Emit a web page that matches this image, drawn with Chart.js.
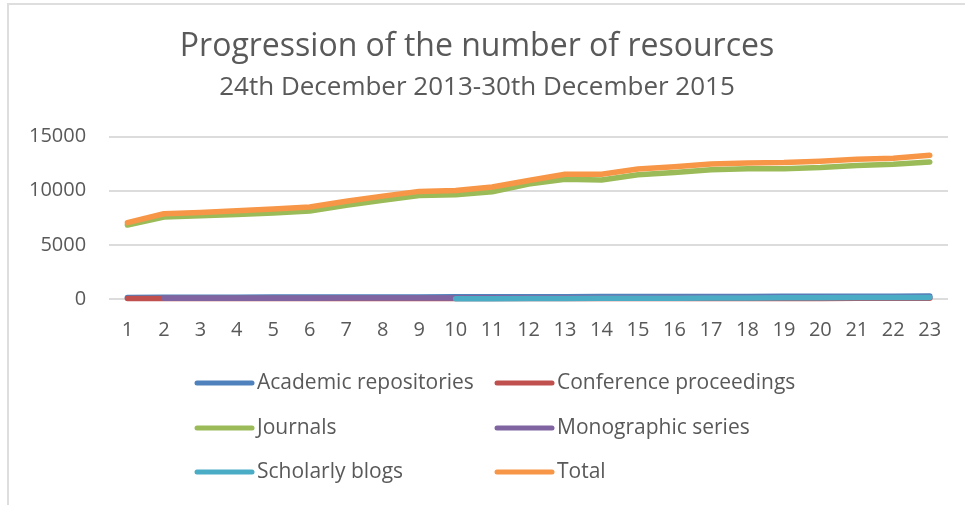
<!DOCTYPE html>
<html>
<head>
<meta charset="utf-8">
<title>Progression of the number of resources</title>
<script src="https://cdn.jsdelivr.net/npm/chart.js@4"></script>
<style>
  html, body { margin: 0; padding: 0; background: #fff; }
  #wrap { position: relative; width: 965px; height: 505px; overflow: hidden; }
  #frame {
    position: absolute; left: 7px; top: 3px; width: 980px; height: 520px;
    border-left: 2px solid #dedede; border-top: 2px solid #dedede;
  }
  #chart { position: absolute; left: 0; top: 0; }
</style>
</head>
<body>
<div id="wrap">
  <div id="frame"></div>
  <canvas id="chart" width="965" height="505"></canvas>
</div>
<script>
const labels = ["1", "2", "3", "4", "5", "6", "7", "8", "9", "10", "11", "12",
  "13", "14", "15", "16", "17", "18", "19", "20", "21", "22", "23"];

const academicRepositories = [150, 160, 165, 170, 175, 180, 185, 190, 195, 200, 205, 210,
  215, 220, 225, 230, 235, 240, 245, 250, 255, 260, 270];
const conferenceProceedings = [40, 45, 45, 45, 45, 45, 45, 50, 50, 50, 50, 50,
  50, 55, 55, 55, 55, 55, 55, 55, 60, 60, 60];
const journals = [6830, 7570, 7690, 7810, 7940, 8130, 8660, 9130, 9560, 9630, 9910, 10620,
  11060, 11000, 11470, 11690, 11940, 12030, 12040, 12150, 12340, 12440, 12650];
const monographicSeries = [null, 60, 65, 70, 75, 80, 85, 90, 95, 100, 105, 110,
  115, 120, 125, 130, 130, 135, 135, 140, 140, 145, 150];
const scholarlyBlogs = [null, null, null, null, null, null, null, null, null, 20, 30, 40,
  50, 60, 70, 80, 90, 100, 110, 120, 130, 140, 150];
const total = [7050, 7870, 8000, 8150, 8310, 8500, 9030, 9500, 9940, 10030, 10350, 10950,
  11530, 11530, 12000, 12220, 12470, 12560, 12600, 12720, 12900, 13000, 13280];

const yTicks = [0, 5000, 10000, 15000];

const seriesNames = ["Academic repositories", "Conference proceedings", "Journals",
  "Monographic series", "Scholarly blogs", "Total"];
const seriesData = [academicRepositories, conferenceProceedings, journals,
  monographicSeries, scholarlyBlogs, total];
const seriesColors = ["#4F81BD", "#C0504D", "#9BBB59", "#8064A2", "#4BACC6", "#F79646"];

const textColor = "#595959";
const fontFamily = "'Open Sans', 'Noto Sans', sans-serif";

// legend in two fixed columns, like the spreadsheet one
const gridLegend = {
  id: "gridLegend",
  afterDraw(chart) {
    const c = chart.ctx;
    const colX = [197, 497];
    const rowY = [383, 428, 472];
    c.save();
    c.font = "21px " + fontFamily;
    c.textBaseline = "middle";
    c.fillStyle = textColor;
    chart.data.datasets.forEach((ds, i) => {
      const x = colX[i % 2];
      const y = rowY[Math.floor(i / 2)];
      c.strokeStyle = ds.borderColor;
      c.lineWidth = 5;
      c.lineCap = "round";
      c.beginPath();
      c.moveTo(x, y);
      c.lineTo(x + 55, y);
      c.stroke();
      c.fillText(ds.label, x + 60, y);
    });
    c.restore();
  }
};

new Chart(document.getElementById("chart"), {
  type: "line",
  data: {
    labels: labels,
    datasets: seriesNames.map((name, i) => ({
      label: name,
      data: seriesData[i],
      borderColor: seriesColors[i],
      backgroundColor: seriesColors[i],
      borderWidth: 5.5,
      borderCapStyle: "round",
      borderJoinStyle: "round",
      pointRadius: 0,
      tension: 0,
      clip: false,
      order: seriesNames.length - i
    }))
  },
  options: {
    responsive: false,
    animation: false,
    layout: { padding: { left: 6, right: 17, top: 0, bottom: 144 } },
    plugins: {
      legend: { display: false },
      tooltip: { enabled: false },
      title: {
        display: true,
        text: "Progression of the number of resources",
        color: textColor,
        font: { family: fontFamily, size: 32, weight: "normal" },
        padding: { top: 28, bottom: 0 }
      },
      subtitle: {
        display: true,
        text: "24th December 2013-30th December 2015",
        color: textColor,
        font: { family: fontFamily, size: 26, weight: "normal" },
        padding: { top: 6, bottom: 33 }
      }
    },
    scales: {
      x: {
        offset: true,
        grid: { display: false, drawTicks: false },
        border: { display: false },
        ticks: {
          color: textColor,
          font: { family: fontFamily, size: 20 },
          padding: 19,
          maxRotation: 0,
          autoSkip: false
        }
      },
      y: {
        min: 0,
        max: 15000,
        afterBuildTicks(scale) {
          scale.ticks = yTicks.map(v => ({ value: v }));
        },
        grid: { color: "#dcdcdc", lineWidth: 2, drawTicks: false },
        border: { display: false },
        ticks: {
          color: textColor,
          font: { family: fontFamily, size: 20 },
          padding: 23,
          callback: v => String(v)
        }
      }
    }
  },
  plugins: [gridLegend]
});
</script>
</body>
</html>
